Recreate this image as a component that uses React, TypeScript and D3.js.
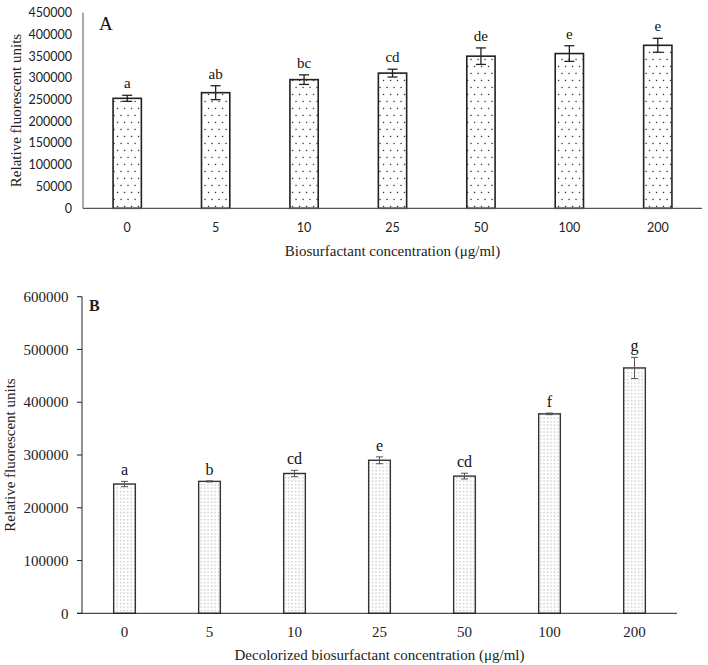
import React from 'react';
import * as d3 from 'd3';

const categories = ['0', '5', '10', '25', '50', '100', '200'];

const valuesA = [253000, 266000, 296000, 311000, 350000, 356000, 375000];
const errorsA = [7000, 16000, 11000, 9000, 19000, 18000, 16000];
const lettersA = ['a', 'ab', 'bc', 'cd', 'de', 'e', 'e'];
const ticksA = [0, 50000, 100000, 150000, 200000, 250000, 300000, 350000, 400000, 450000];

const valuesB = [245000, 250000, 265000, 290000, 260000, 378000, 465000];
const errorsB = [5000, 1000, 6000, 6500, 5500, 1500, 20000];
const lettersB = ['a', 'b', 'cd', 'e', 'cd', 'f', 'g'];
const ticksB = [0, 100000, 200000, 300000, 400000, 500000, 600000];

const SERIF = "'Liberation Serif', 'DejaVu Serif', serif";
const SANS = "Lato, 'Liberation Sans', sans-serif";

const serif = (size: number, weight: string = 'normal') => ({ fontFamily: SERIF, fontSize: size + 'px', fontWeight: weight });
const sans = (size: number) => ({ fontFamily: SANS, fontSize: size + 'px' });

export default function App() {
  // Panel A scales
  const xA = d3.scaleBand<string>().domain(categories).range([83, 702]).paddingInner(0.68).paddingOuter(0.34);
  const yA = d3.scaleLinear().domain([0, 450000]).range([208.3, 12.7]);
  // Panel B scales
  const xB = d3.scaleBand<string>().domain(categories).range([82, 677]).paddingInner(0.745).paddingOuter(0.3725);
  const yB = d3.scaleLinear().domain([0, 600000]).range([613.3, 296.7]);

  return (
    <svg width={708} height={665} style={{ position: 'absolute', left: 0, top: 0, background: '#fff' }}>
      <defs>
        <pattern id="dotsA" patternUnits="userSpaceOnUse" width={7} height={14}>
          <rect width={7} height={14} fill="#fff" />
          <rect x={1.4} y={2.8} width={1.3} height={1.3} fill="#333" />
          <rect x={4.9} y={9.8} width={1.3} height={1.3} fill="#333" />
        </pattern>
        <pattern id="dotsB" patternUnits="userSpaceOnUse" width={3.5} height={3.5}>
          <rect width={3.5} height={3.5} fill="#fff" />
          <rect x={1.2} y={1.2} width={0.9} height={0.9} fill="#777" />
        </pattern>
      </defs>

      {/* ===== Panel A ===== */}
      <g>
        {valuesA.map((v, i) => {
          const c = categories[i];
          const x = xA(c)!;
          const w = xA.bandwidth();
          const cx = x + w / 2;
          const top = yA(v + errorsA[i]);
          const bot = yA(v - errorsA[i]);
          return (
            <g key={'a' + i}>
              <rect x={x} y={yA(v)} width={w} height={yA(0) - yA(v)} fill="url(#dotsA)" stroke="#222" strokeWidth={1.6} />
              <line x1={cx} x2={cx} y1={top} y2={bot} stroke="#222" strokeWidth={1.3} />
              <line x1={cx - 5} x2={cx + 5} y1={top} y2={top} stroke="#222" strokeWidth={1.3} />
              <line x1={cx - 5} x2={cx + 5} y1={bot} y2={bot} stroke="#222" strokeWidth={1.3} />
              <text x={cx} y={top - 7} textAnchor="middle" style={serif(15)} fill="#111">{lettersA[i]}</text>
              <text x={cx} y={231.5} textAnchor="middle" style={sans(12.5)} fill="#222">{c}</text>
            </g>
          );
        })}
        <line x1={83} x2={83} y1={yA(450000)} y2={yA(0)} stroke="#555" strokeWidth={1} />
        <line x1={83} x2={702} y1={yA(0)} y2={yA(0)} stroke="#555" strokeWidth={1.2} />
        {ticksA.map((t) => (
          <text key={'ta' + t} x={72} y={yA(t)} dy="0.35em" textAnchor="end" style={sans(12.5)} fill="#222">{t}</text>
        ))}
        <text x={99} y={29.5} style={serif(19)} fill="#111">A</text>
        <text transform={`translate(20.5, ${yA(225000)}) rotate(-90)`} textAnchor="middle" style={serif(15)} fill="#222">Relative fluorescent units</text>
        <text x={392.5} y={256} textAnchor="middle" style={serif(15)} fill="#222">Biosurfactant concentration (μg/ml)</text>
      </g>

      {/* ===== Panel B ===== */}
      <g>
        {valuesB.map((v, i) => {
          const c = categories[i];
          const x = xB(c)!;
          const w = xB.bandwidth();
          const cx = x + w / 2;
          const top = yB(v + errorsB[i]);
          const bot = yB(v - errorsB[i]);
          return (
            <g key={'b' + i}>
              <rect x={x} y={yB(v)} width={w} height={yB(0) - yB(v)} fill="url(#dotsB)" stroke="#333" strokeWidth={1.4} />
              <line x1={cx} x2={cx} y1={top} y2={bot} stroke="#555" strokeWidth={1} />
              <line x1={cx - 3.5} x2={cx + 3.5} y1={top} y2={top} stroke="#555" strokeWidth={1} />
              <line x1={cx - 3.5} x2={cx + 3.5} y1={bot} y2={bot} stroke="#555" strokeWidth={1} />
              <text x={cx} y={top - 6} textAnchor="middle" style={serif(16)} fill="#111">{lettersB[i]}</text>
              <text x={cx} y={637} textAnchor="middle" style={serif(15)} fill="#222">{c}</text>
            </g>
          );
        })}
        <line x1={82} x2={82} y1={yB(600000)} y2={yB(0)} stroke="#222" strokeWidth={1} />
        <line x1={77} x2={677} y1={yB(0)} y2={yB(0)} stroke="#222" strokeWidth={1} />
        {ticksB.map((t) => (
          <g key={'tb' + t}>
            <line x1={77} x2={82} y1={yB(t)} y2={yB(t)} stroke="#222" strokeWidth={1} />
            <text x={68.5} y={yB(t)} dy="0.35em" textAnchor="end" style={serif(15)} fill="#222">{t}</text>
          </g>
        ))}
        <text x={89} y={310.5} style={serif(16, 'bold')} fill="#222">B</text>
        <text transform={`translate(15, ${yB(300000)}) rotate(-90)`} textAnchor="middle" style={serif(15)} fill="#222">Relative fluorescent units</text>
        <text x={379.5} y={660} textAnchor="middle" style={serif(15)} fill="#222">Decolorized biosurfactant concentration (μg/ml)</text>
      </g>
    </svg>
  );
}
